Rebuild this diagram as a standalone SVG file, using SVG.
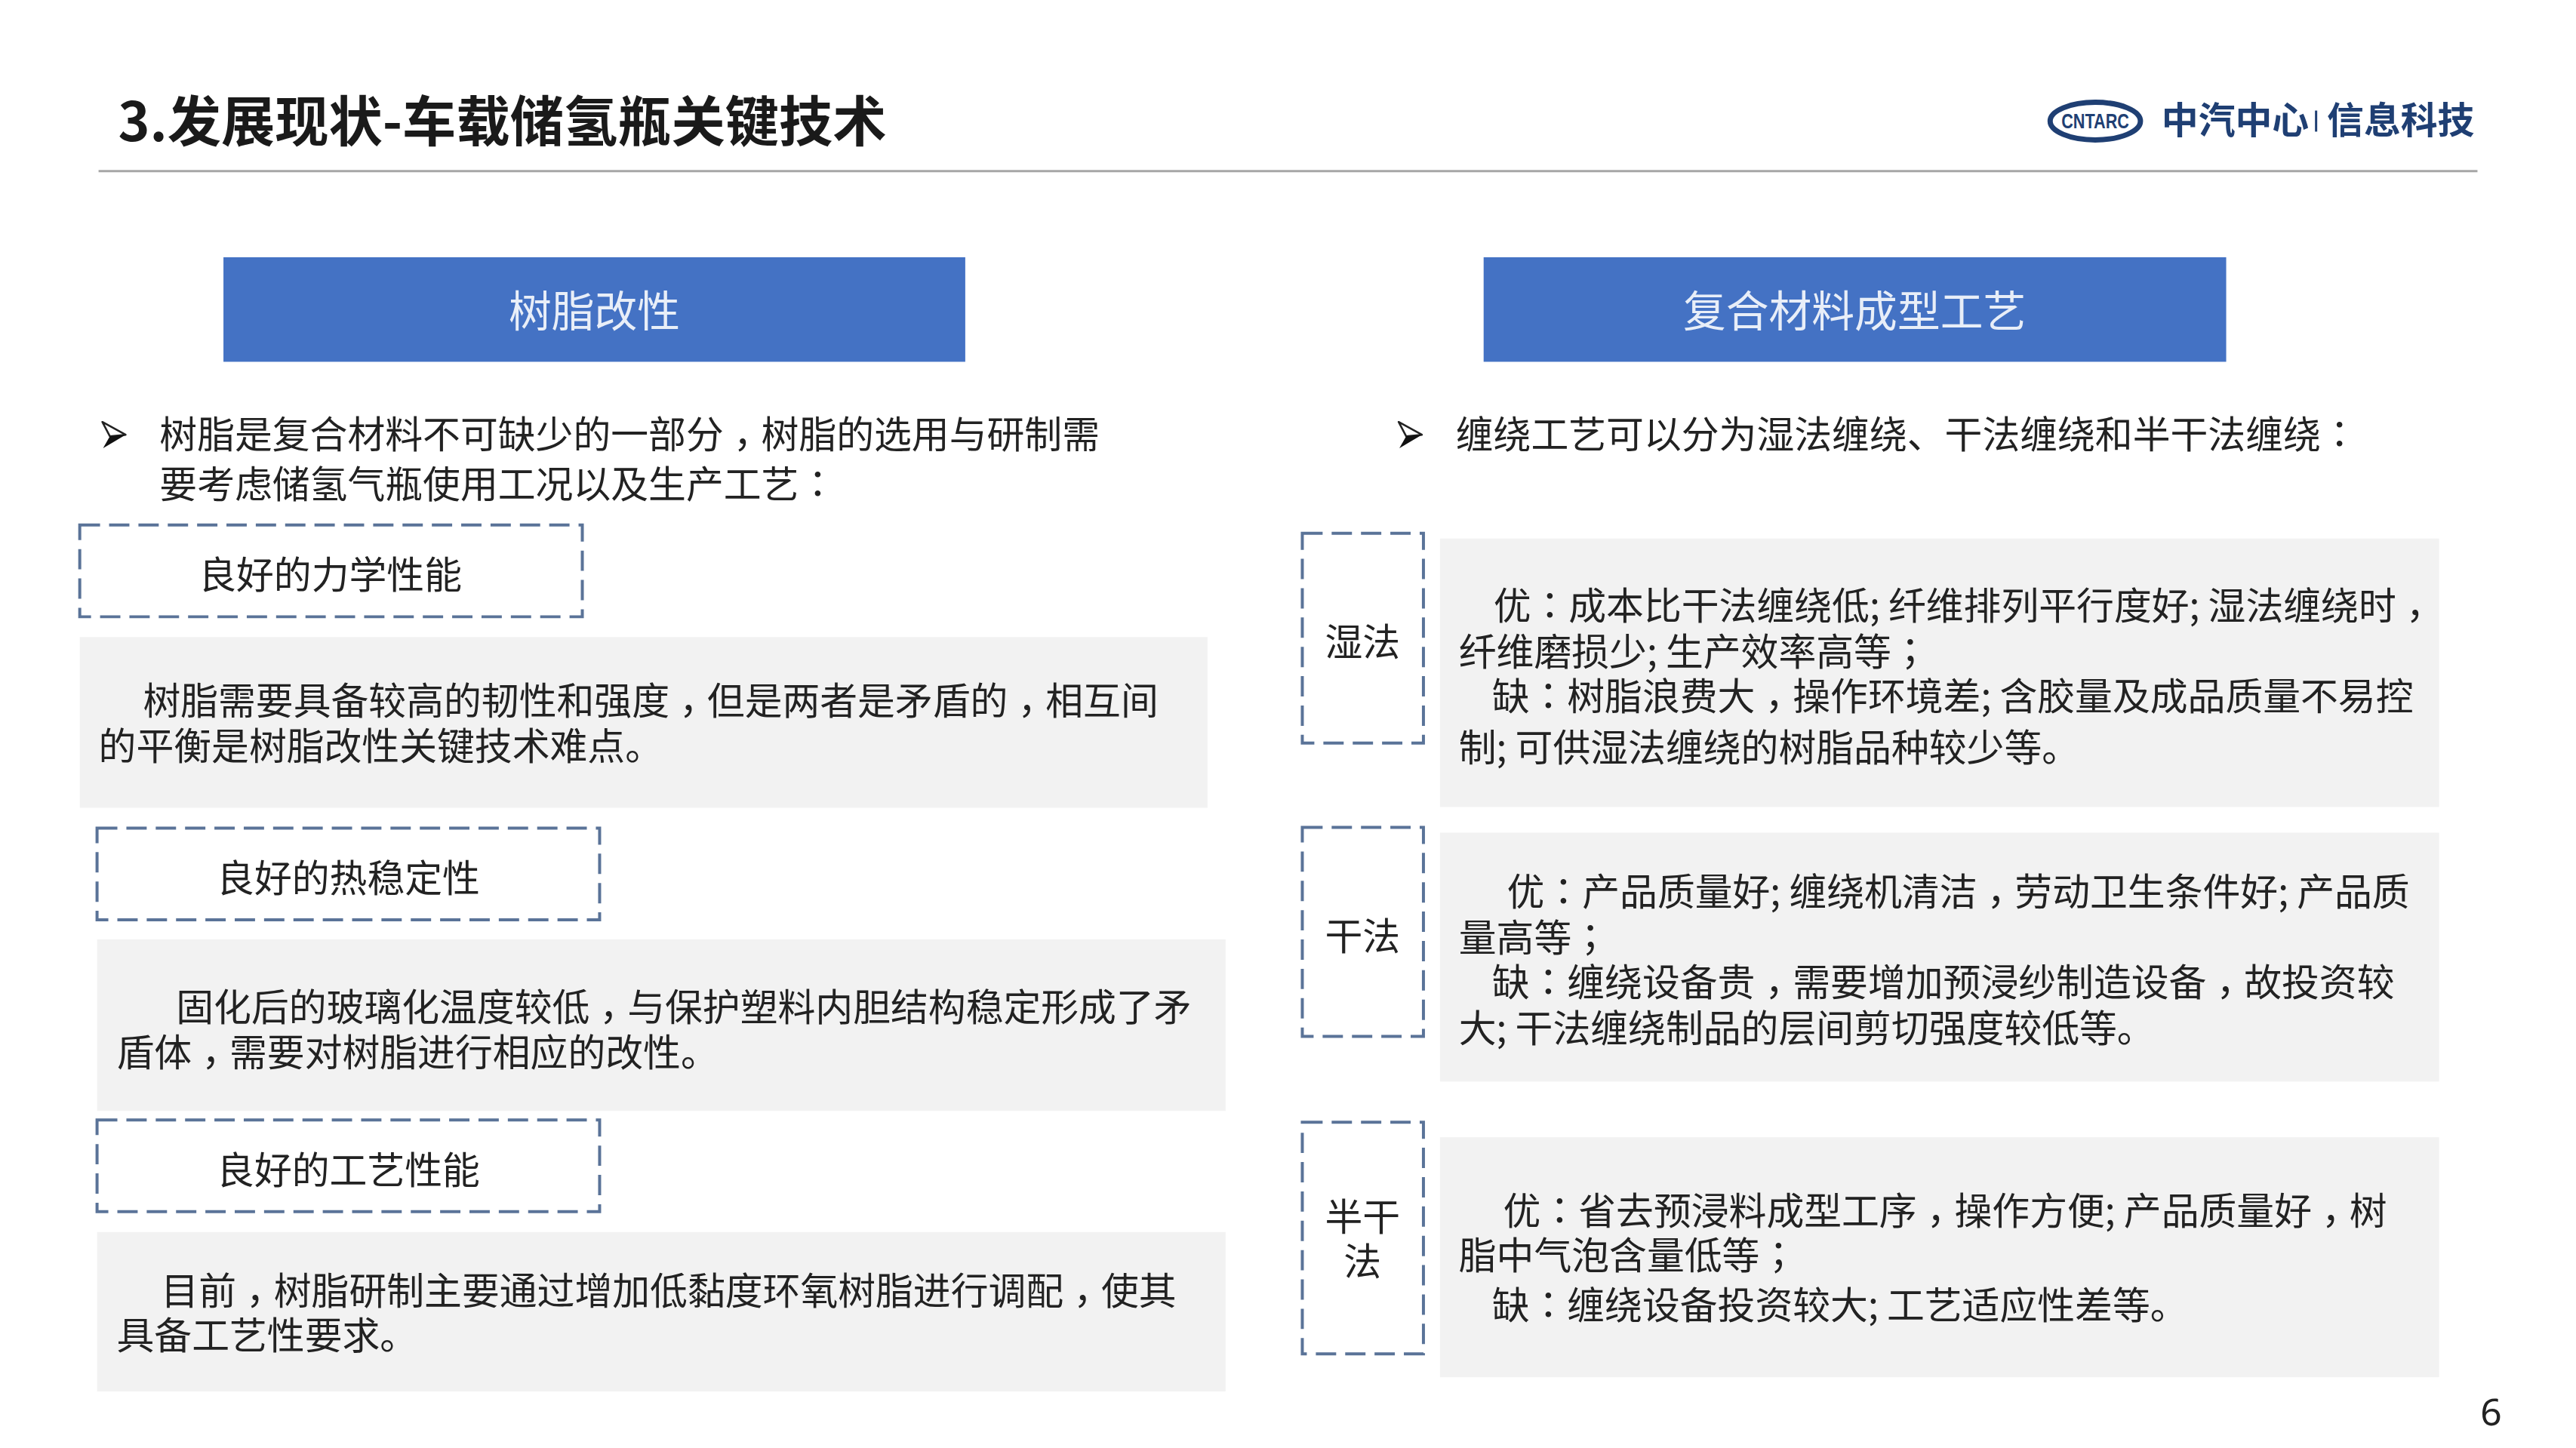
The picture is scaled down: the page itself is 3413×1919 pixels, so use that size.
<svg xmlns="http://www.w3.org/2000/svg" width="3413" height="1919" viewBox="0 0 3413 1919">
<style>
text{font-family:"Noto Sans CJK SC","Liberation Sans",sans-serif;fill:#222;font-size:50px}
.p{font-family:"Noto Sans CJK TC","Liberation Sans",sans-serif}
.title{font-size:71.5px;font-weight:700;fill:#1a1a1a}
.hdr{fill:#4472c4}
.hdrt{fill:#e8eef8;font-size:57px;text-anchor:middle}
.dash{fill:#fff;stroke:#5a7398;stroke-width:4;stroke-dasharray:27 12}
.gray{fill:#f2f2f2}
.c{text-anchor:middle}
.logo{fill:#1f3f73;font-weight:700;font-size:49px}
</style>
<defs>
<g id="bullet">
<path d="M136 561L167 578L146 580Z" fill="#fff" stroke="#222" stroke-width="2.5" stroke-linejoin="round"/>
<path d="M167 578L137 596L146 580Z" fill="#111"/>
</g>
</defs>
<rect width="3413" height="1919" fill="#fff"/>
<g transform="scale(0.9968)">
<g id="title">
<text class="title" x="157" y="188">3.发展现状-车载储氢瓶关键技术</text>
<rect x="131" y="226" width="3162" height="3" fill="#a6a6a6"/>
</g>
<g id="logo">
<ellipse cx="2785" cy="161" rx="60" ry="25" fill="none" stroke="#1f3f73" stroke-width="7"/>
<text x="2785" y="171" text-anchor="middle" style="font-family:'Liberation Sans',sans-serif;font-size:27px;font-weight:700;fill:#1f3f73" textLength="90" lengthAdjust="spacingAndGlyphs">CNTARC</text>
<text class="logo" x="2873" y="178">中汽中心</text>
<rect x="3077" y="147" width="3" height="28" fill="#1f3f73"/>
<text class="logo" x="3093" y="178">信息科技</text>
</g>
<g id="left-header"><rect class="hdr" x="297" y="342" width="986" height="139"/><text class="hdrt" x="790" y="434">树脂改性</text></g>
<g id="right-header"><rect class="hdr" x="1972" y="342" width="987" height="139"/><text class="hdrt" x="2465" y="434">复合材料成型工艺</text></g>
<g id="left-intro">
<use href="#bullet"/>
<text x="212" y="596">树脂是复合材料不可缺少的一部分<tspan class="p" dy="14">，</tspan><tspan dy="-14">树脂的选用与研制需</tspan></text>
<text x="212" y="662">要考虑储氢气瓶使用工况以及生产工艺<tspan class="p">：</tspan></text>
</g>
<g id="right-intro">
<use href="#bullet" x="1723"/>
<text x="1935" y="596">缠绕工艺可以分为湿法缠绕、干法缠绕和半干法缠绕<tspan class="p">：</tspan></text>
</g>
<g id="label-mech"><rect class="dash" x="106" y="698" width="668" height="122"/><text class="c" x="439" y="783">良好的力学性能</text></g>
<g id="text-mech"><rect class="gray" x="106" y="847" width="1499" height="227"/>
<text x="190" y="950">树脂需要具备较高的韧性和强度<tspan class="p" dy="14">，</tspan><tspan dy="-14">但是两者是矛盾的</tspan><tspan class="p" dy="14">，</tspan><tspan dy="-14">相互间</tspan></text>
<text x="131" y="1010">的平衡是树脂改性关键技术难点。</text></g>
<g id="label-heat"><rect class="dash" x="129" y="1101" width="668" height="122"/><text class="c" x="463" y="1186">良好的热稳定性</text></g>
<g id="text-heat"><rect class="gray" x="129" y="1249" width="1500" height="228"/>
<text x="234" y="1357">固化后的玻璃化温度较低<tspan class="p" dy="14">，</tspan><tspan dy="-14">与保护塑料内胆结构稳定形成了矛</tspan></text>
<text x="155" y="1418">盾体<tspan class="p" dy="14">，</tspan><tspan dy="-14">需要对树脂进行相应的改性。</tspan></text></g>
<g id="label-craft"><rect class="dash" x="129" y="1489" width="668" height="122"/><text class="c" x="463" y="1574">良好的工艺性能</text></g>
<g id="text-craft"><rect class="gray" x="129" y="1638" width="1500" height="212"/>
<text x="214" y="1735">目前<tspan class="p" dy="14">，</tspan><tspan dy="-14">树脂研制主要通过增加低黏度环氧树脂进行调配</tspan><tspan class="p" dy="14">，</tspan><tspan dy="-14">使其</tspan></text>
<text x="155" y="1794">具备工艺性要求。</text></g>
<g id="label-wet"><rect class="dash" x="1731" y="709" width="161" height="279"/><text class="c" x="1811" y="872">湿法</text></g>
<g id="text-wet"><rect class="gray" x="1914" y="716" width="1328" height="357"/>
<text x="1985" y="824">优<tspan class="p">：</tspan>成本比干法缠绕低; 纤维排列平行度好; 湿法缠绕时<tspan class="p" dy="14">，</tspan></text>
<text x="1939" y="885">纤维磨损少; 生产效率高等<tspan class="p">；</tspan></text>
<text x="1983" y="944">缺<tspan class="p">：</tspan>树脂浪费大<tspan class="p" dy="14">，</tspan><tspan dy="-14">操作环境差; 含胶量及成品质量不易控</tspan></text>
<text x="1939" y="1012">制; 可供湿法缠绕的树脂品种较少等。</text></g>
<g id="label-dry"><rect class="dash" x="1731" y="1100" width="161" height="278"/><text class="c" x="1811" y="1263">干法</text></g>
<g id="text-dry"><rect class="gray" x="1914" y="1107" width="1328" height="331"/>
<text x="2003" y="1204">优<tspan class="p">：</tspan>产品质量好; 缠绕机清洁<tspan class="p" dy="14">，</tspan><tspan dy="-14">劳动卫生条件好; 产品质</tspan></text>
<text x="1939" y="1265">量高等<tspan class="p">；</tspan></text>
<text x="1983" y="1324">缺<tspan class="p">：</tspan>缠绕设备贵<tspan class="p" dy="14">，</tspan><tspan dy="-14">需要增加预浸纱制造设备</tspan><tspan class="p" dy="14">，</tspan><tspan dy="-14">故投资较</tspan></text>
<text x="1939" y="1385">大; 干法缠绕制品的层间剪切强度较低等。</text></g>
<g id="label-semi"><rect class="dash" x="1731" y="1492" width="161" height="308"/><text class="c" x="1811" y="1636">半干</text><text class="c" x="1811" y="1695">法</text></g>
<g id="text-semi"><rect class="gray" x="1914" y="1512" width="1328" height="319"/>
<text x="1998" y="1628">优<tspan class="p">：</tspan>省去预浸料成型工序<tspan class="p" dy="14">，</tspan><tspan dy="-14">操作方便; 产品质量好</tspan><tspan class="p" dy="14">，</tspan><tspan dy="-14">树</tspan></text>
<text x="1939" y="1687">脂中气泡含量低等<tspan class="p">；</tspan></text>
<text x="1983" y="1754">缺<tspan class="p">：</tspan>缠绕设备投资较大; 工艺适应性差等。</text></g>
<text id="page" x="3311" y="1895" text-anchor="middle" style="font-family:'Noto Sans',sans-serif;font-size:50px">6</text>
</g>
</svg>
